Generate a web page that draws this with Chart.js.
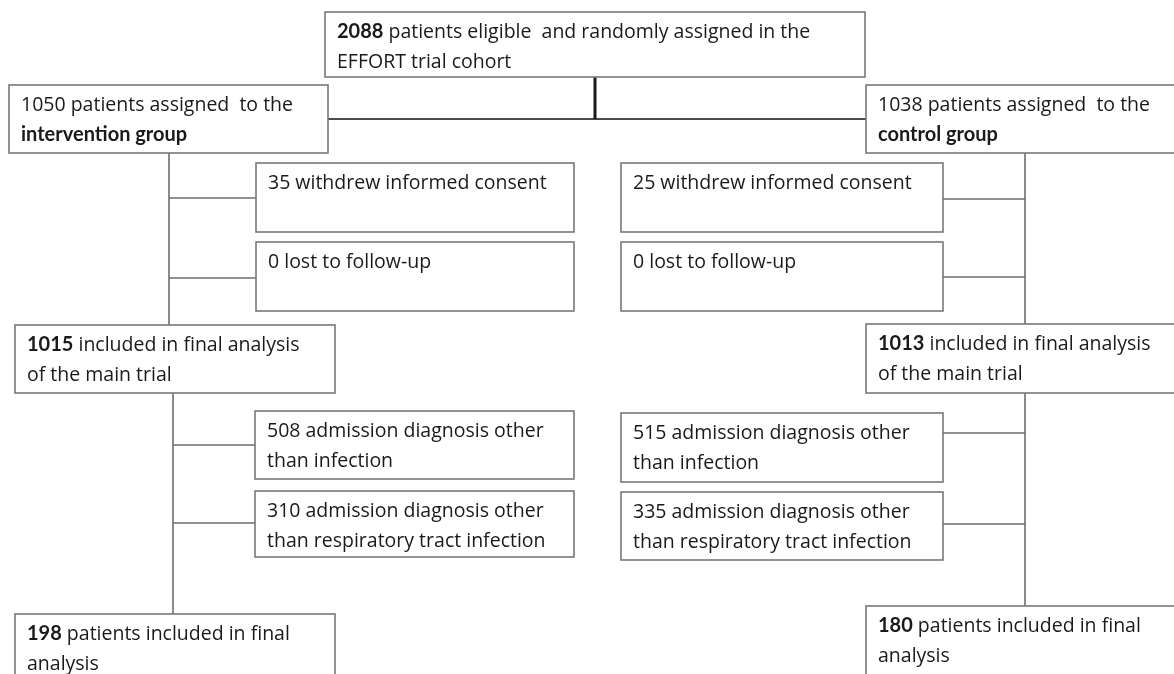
<!DOCTYPE html>
<html>
<head>
<meta charset="utf-8">
<script src="https://cdn.jsdelivr.net/npm/chart.js@4.4.1/dist/chart.umd.min.js"></script>
<style>
  html, body { margin: 0; padding: 0; background: #fff; }
  #flow { display: block; }
</style>
</head>
<body>
<canvas id="flow" width="1174" height="674"></canvas>
<script>
// nodes of the flow diagram, {n} is replaced by the count, **..** is bold, | is a line break
const nodeIds = ['cohort', 'intArm', 'ctlArm', 'intWithdrew', 'ctlWithdrew', 'intLost', 'ctlLost',
  'intMain', 'ctlMain', 'intNonInf', 'ctlNonInf', 'intNonResp', 'ctlNonResp', 'intFinal', 'ctlFinal'];
const nodeCounts = [2088, 1050, 1038, 35, 25, 0, 0, 1015, 1013, 508, 515, 310, 335, 198, 180];
const nodeText = [
  '**{n}** patients eligible  and randomly assigned in the|EFFORT trial cohort',
  '{n} patients assigned  to the|**intervention group**',
  '{n} patients assigned  to the|**control group**',
  '{n} withdrew informed consent',
  '{n} withdrew informed consent',
  '{n} lost to follow-up',
  '{n} lost to follow-up',
  '**{n}** included in final analysis|of the main trial',
  '**{n}** included in final analysis|of the main trial',
  '{n} admission diagnosis other|than infection',
  '{n} admission diagnosis other|than infection',
  '{n} admission diagnosis other|than respiratory tract infection',
  '{n} admission diagnosis other|than respiratory tract infection',
  '**{n}** patients included in final|analysis',
  '**{n}** patients included in final|analysis'
];

// layout in diagram units (same range as the hidden axes): [left, top, right, bottom]
const boxes = {
  cohort:      [325, 12, 865, 77],
  intArm:      [9, 85, 328, 153],
  ctlArm:      [866, 85, 1180, 153],
  intWithdrew: [256, 163, 574, 232],
  ctlWithdrew: [621, 163, 943, 232],
  intLost:     [256, 242, 574, 311],
  ctlLost:     [621, 242, 943, 311],
  intMain:     [15, 325, 335, 393],
  ctlMain:     [866, 324, 1180, 393],
  intNonInf:   [255, 411, 574, 479],
  ctlNonInf:   [621, 413, 943, 482],
  intNonResp:  [255, 491, 574, 557],
  ctlNonResp:  [621, 492, 943, 560],
  intFinal:    [15, 614, 335, 690],
  ctlFinal:    [866, 606, 1180, 690]
};
const trunks = [
  { x: 169, from: 'intArm', to: 'intMain', branches: ['intWithdrew', 'intLost'] },
  { x: 173, from: 'intMain', to: 'intFinal', branches: ['intNonInf', 'intNonResp'] },
  { x: 1025, from: 'ctlArm', to: 'ctlMain', branches: ['ctlWithdrew', 'ctlLost'] },
  { x: 1025, from: 'ctlMain', to: 'ctlFinal', branches: ['ctlNonInf', 'ctlNonResp'] }
];
const branchY = {
  intWithdrew: 198, intLost: 278, intNonInf: 445, intNonResp: 523,
  ctlWithdrew: 199, ctlLost: 277, ctlNonInf: 433, ctlNonResp: 524
};
const splitX = 595;
const splitY = 119;

const FONT_REG = '400 19.5px "Open Sans", Lato, sans-serif';
const FONT_BOLD = '700 20px Lato, "Open Sans", sans-serif';

const flowPlugin = {
  id: 'flow',
  afterDatasetsDraw(chart) {
    const ctx = chart.ctx;
    const xs = chart.scales.x, ys = chart.scales.y;
    const px = v => xs.getPixelForValue(v);
    const py = v => ys.getPixelForValue(v);

    const line = (x1, y1, x2, y2, color, width) => {
      ctx.beginPath();
      ctx.strokeStyle = color;
      ctx.lineWidth = width;
      ctx.moveTo(px(x1), py(y1));
      ctx.lineTo(px(x2), py(y2));
      ctx.stroke();
    };

    ctx.save();
    ctx.lineCap = 'butt';

    // randomisation split
    const c = boxes.cohort, a = boxes.intArm, b = boxes.ctlArm;
    line(a[2], splitY, b[0], splitY, '#4a4a4a', 2);
    line(splitX, c[3], splitX, splitY, '#1a1a1a', 3);

    // trunks and side branches
    trunks.forEach(t => {
      line(t.x, boxes[t.from][3], t.x, boxes[t.to][1], '#6e6e6e', 1.6);
      t.branches.forEach(id => {
        const bx = boxes[id];
        const edge = bx[0] > t.x ? bx[0] : bx[2];
        line(t.x, branchY[id], edge, branchY[id], '#6e6e6e', 1.6);
      });
    });

    // boxes with text
    nodeIds.forEach((id, i) => {
      const r = boxes[id];
      const x0 = px(r[0]), y0 = py(r[1]), x1 = px(r[2]), y1 = py(r[3]);
      ctx.fillStyle = '#ffffff';
      ctx.fillRect(x0, y0, x1 - x0, y1 - y0);
      ctx.strokeStyle = '#787878';
      ctx.lineWidth = 1.6;
      ctx.strokeRect(x0, y0, x1 - x0, y1 - y0);

      const lines = nodeText[i].replace('{n}', nodeCounts[i]).split('|');
      ctx.textBaseline = 'middle';
      ctx.fillStyle = '#1a1a1a';
      lines.forEach((ln, k) => {
        let tx = x0 + 12;
        const ty = y0 + 20 + k * 30;
        ln.split('**').forEach((part, j) => {
          if (!part) return;
          ctx.font = j % 2 ? FONT_BOLD : FONT_REG;
          ctx.fillText(part, tx, ty);
          tx += ctx.measureText(part).width;
        });
      });
    });
    ctx.restore();
  }
};

const chart = new Chart(document.getElementById('flow').getContext('2d'), {
  type: 'scatter',
  data: { datasets: [{ data: [] }] },
  options: {
    responsive: false,
    animation: false,
    layout: { padding: 0 },
    plugins: { legend: { display: false }, tooltip: { enabled: false } },
    scales: {
      x: { type: 'linear', min: 0, max: 1174, display: false },
      y: { type: 'linear', min: 0, max: 674, reverse: true, display: false }
    }
  },
  plugins: [flowPlugin]
});
</script>
</body>
</html>
